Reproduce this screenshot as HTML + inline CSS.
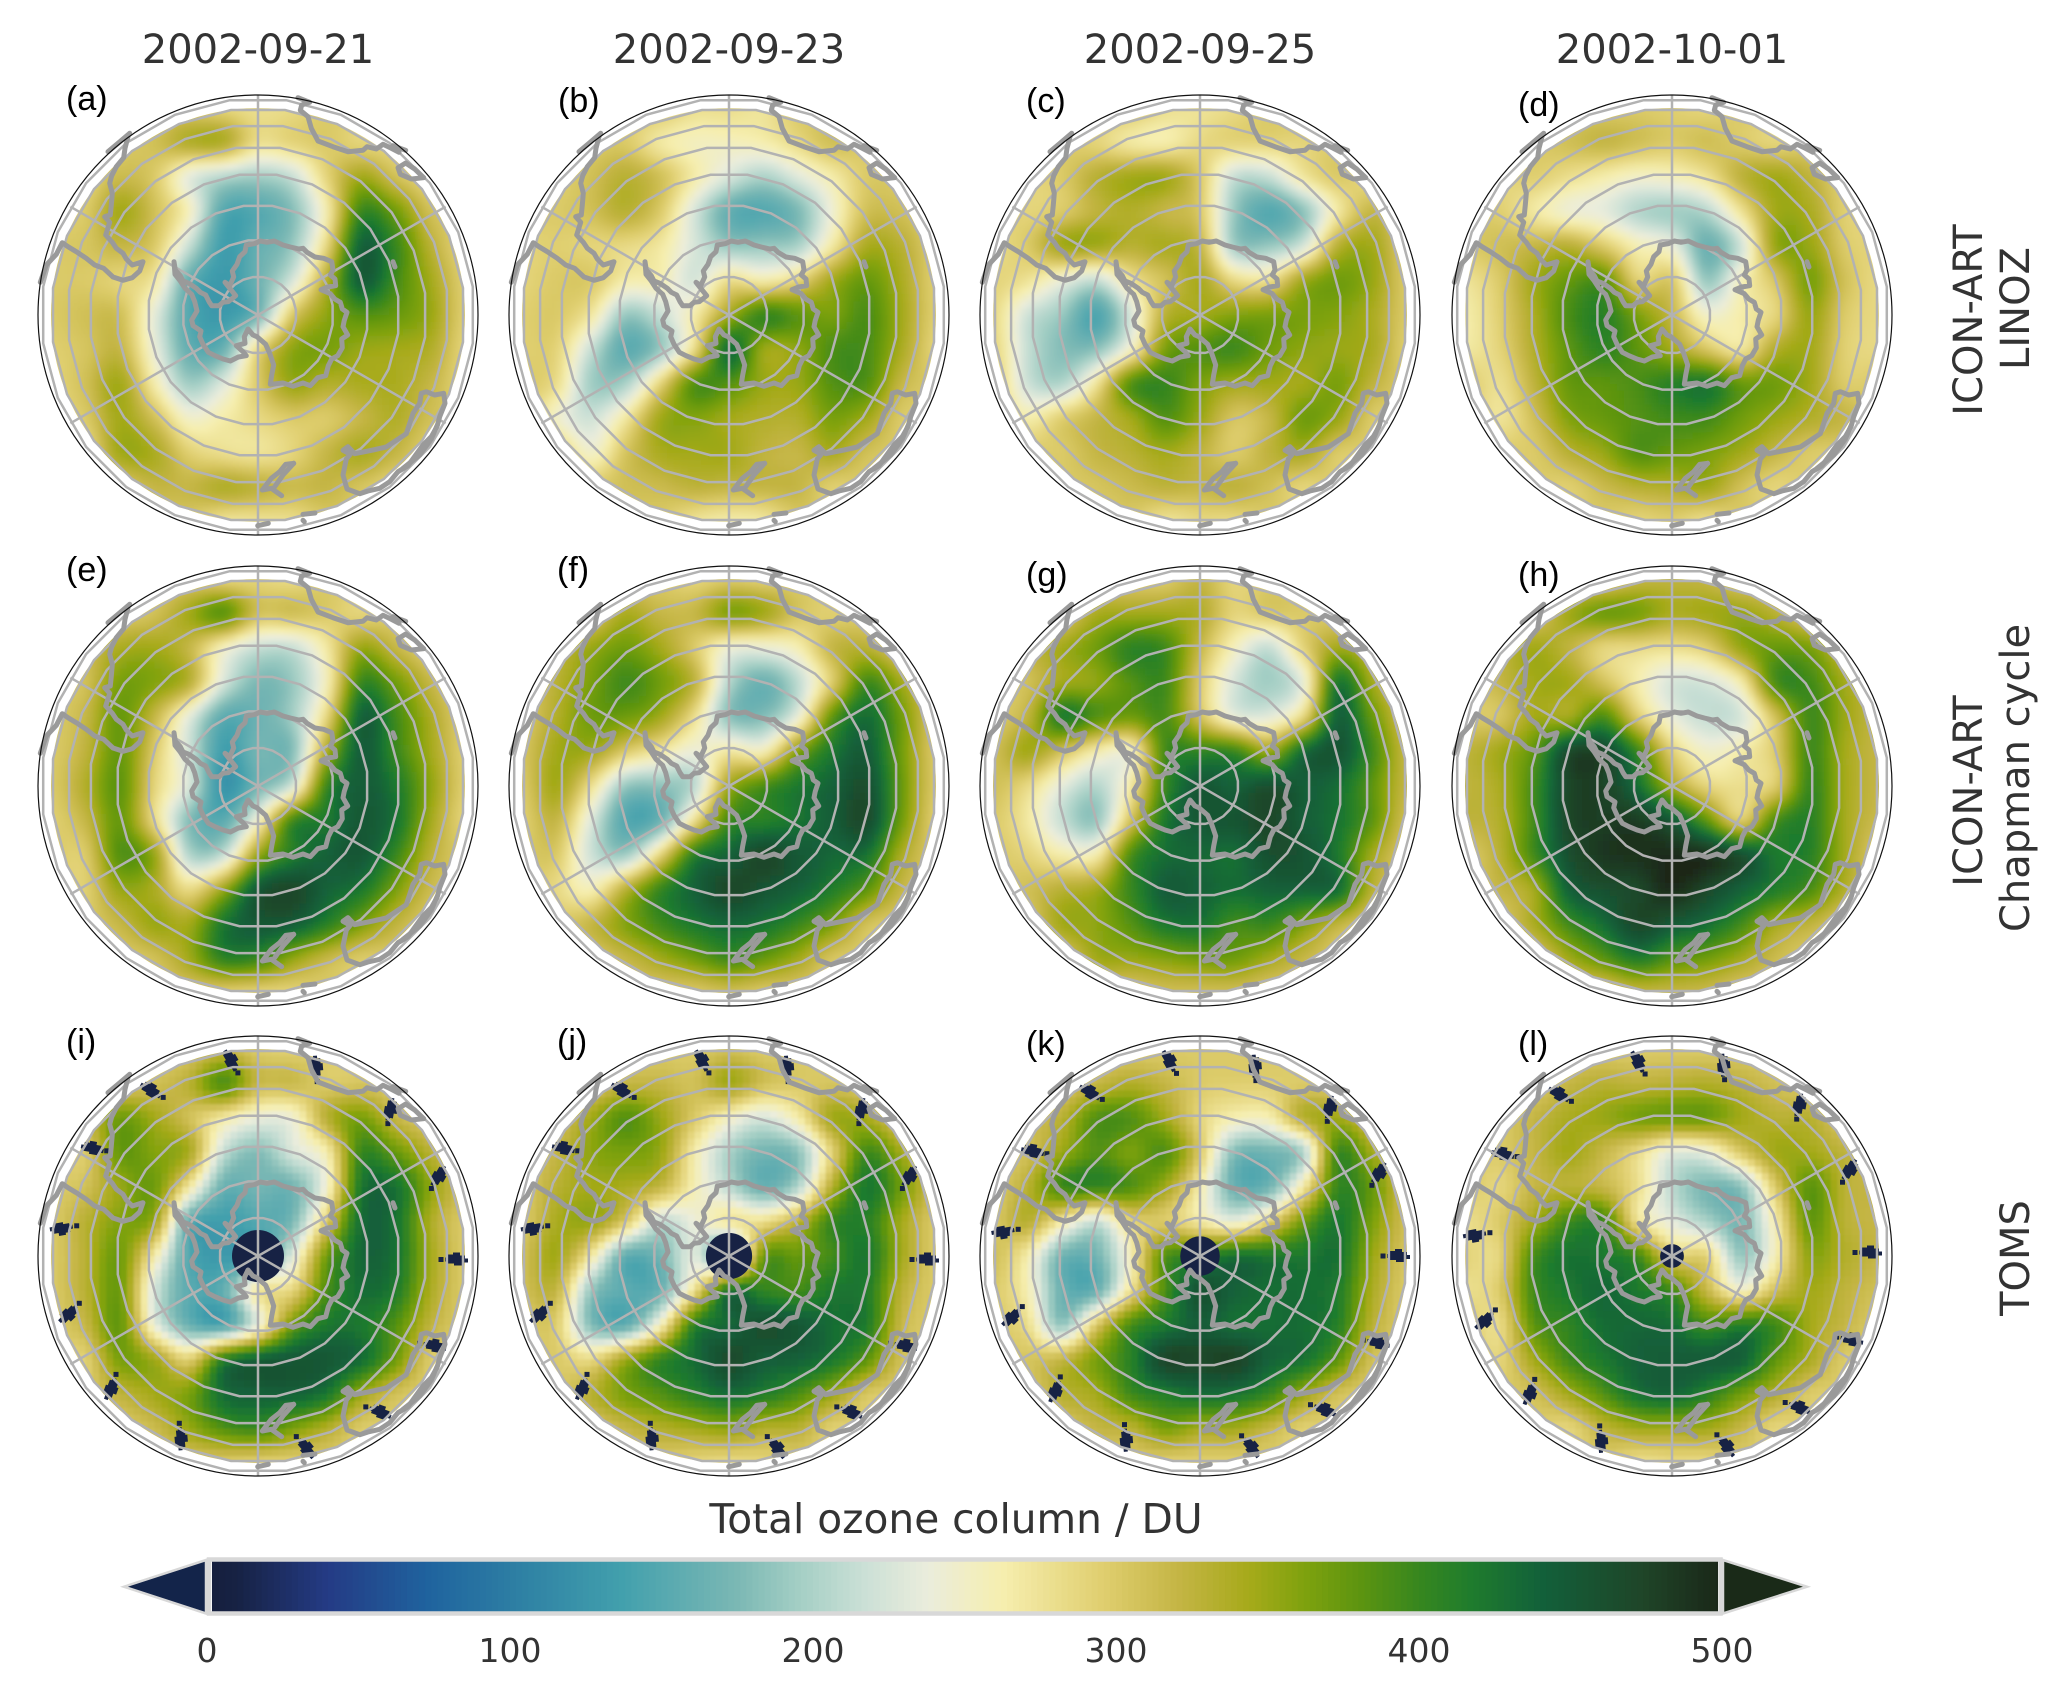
<!DOCTYPE html>
<html lang="en">
<head>
<meta charset="utf-8">
<title>Total ozone column maps</title>
<style>
html,body{margin:0;padding:0;background:#fff;}
#figure{display:block;width:2067px;height:1700px;}
.title{font-family:"DejaVu Sans","Liberation Sans",sans-serif;font-size:40px;fill:#333;text-anchor:middle;}
.letter{font-family:"Liberation Sans",sans-serif;font-size:34px;fill:#000;}
.tick{font-family:"DejaVu Sans","Liberation Sans",sans-serif;font-size:33px;fill:#333;text-anchor:middle;}
</style>
</head>
<body>
<svg id="figure" xmlns="http://www.w3.org/2000/svg" width="2067" height="1700" viewBox="0 0 2067 1700">
  <defs>
    <clipPath id="data-disk"><circle cx="0" cy="0" r="207"></circle></clipPath>
    <filter id="soft-model" x="-10%" y="-10%" width="120%" height="120%"><feGaussianBlur stdDeviation="2.6"></feGaussianBlur></filter>
    <filter id="soft-toms" x="-10%" y="-10%" width="120%" height="120%"><feGaussianBlur stdDeviation="1.3"></feGaussianBlur></filter>
  </defs>
  <rect x="0" y="0" width="2067" height="1700" fill="#fff"></rect>

  <text class="title" x="258" y="63">2002-09-21</text>
  <text class="title" x="729" y="63">2002-09-23</text>
  <text class="title" x="1200" y="63">2002-09-25</text>
  <text class="title" x="1672" y="63">2002-10-01</text>

  <g id="panels"></g>

  <text class="letter" x="66" y="110">(a)</text>
  <text class="letter" x="558" y="112">(b)</text>
  <text class="letter" x="1026" y="112">(c)</text>
  <text class="letter" x="1518" y="116">(d)</text>
  <text class="letter" x="66" y="581">(e)</text>
  <text class="letter" x="557" y="581">(f)</text>
  <text class="letter" x="1026" y="586">(g)</text>
  <text class="letter" x="1518" y="586">(h)</text>
  <text class="letter" x="66" y="1053">(i)</text>
  <text class="letter" x="557" y="1053">(j)</text>
  <text class="letter" x="1026" y="1055">(k)</text>
  <text class="letter" x="1518" y="1055">(l)</text>

  <text class="title" transform="translate(1982,320) rotate(-90)">ICON-ART</text>
  <text class="title" transform="translate(2029,308.5) rotate(-90)">LINOZ</text>
  <text class="title" transform="translate(1982,791) rotate(-90)">ICON-ART</text>
  <text class="title" transform="translate(2029,778) rotate(-90)">Chapman cycle</text>
  <text class="title" transform="translate(2029,1258) rotate(-90)">TOMS</text>

  <text class="title" x="956" y="1533" style="font-size:40.7px">Total ozone column / DU</text>
  <g id="colorbar"></g>
</svg>
<script>
/* Colormap */
const cmapValues=[0,10,40,74,100,137,175,196,217,238,263,295,321,344,362,381,401,417,441,474,500];
const cmapColors=['#141e3c','#172244','#243b85','#1f649f','#2c7da3','#42a0ad','#7bb8b4','#a5cfc5','#cbe0d6','#ebeddc','#f6eeae','#e0cf70','#c4b544','#a6aa1a','#7fa20e','#5c9410','#35861f','#1f7c2d','#12603a','#1f4528','#1a2618'];

/* Colorbar ticks */
const colorbarTicks=[0,100,200,300,400,500];

/* Graticule */
const latitudeCircles=[-80,-70,-60,-50,-40,-30,-20,-10];
const meridianBearings=[90,30,150];

/* Ozone values in DU: 13 x 13 nodes, north to south, west to east across the map disk */
const ozoneA=[
[300,300,300,300,300,290,280,285,300,300,300,300,300],
[300,300,300,310,335,335,280,290,300,290,290,300,300],
[300,290,315,300,235,205,195,215,290,345,310,290,300],
[300,300,345,310,255,150,150,180,265,400,370,310,300],
[300,305,320,300,215,135,160,190,290,440,400,330,290],
[300,300,290,270,160,130,165,225,335,445,395,345,295],
[300,310,310,235,150,130,170,300,355,385,375,350,295],
[295,305,320,240,160,165,285,355,365,350,345,335,290],
[290,310,345,265,195,230,300,350,335,340,340,320,290],
[290,300,345,310,250,265,285,300,300,320,335,310,300],
[300,285,345,340,295,280,275,290,320,340,320,295,300],
[300,300,300,320,320,335,325,315,320,305,290,300,300],
[300,300,300,300,300,275,275,280,300,300,300,300,300]];
const ozoneB=[
[300,300,300,300,300,280,280,275,300,300,300,300,300],
[300,300,300,300,270,255,255,262,285,310,300,300,300],
[300,295,310,330,310,265,225,200,230,265,300,300,300],
[300,300,310,330,300,225,160,150,175,245,310,310,290],
[290,295,290,285,270,225,190,190,200,270,340,330,295],
[290,300,300,265,260,225,280,265,290,345,375,340,295],
[295,300,270,190,215,265,345,400,380,365,390,345,295],
[295,290,215,155,190,285,430,350,355,390,390,340,290],
[300,280,195,200,290,385,385,350,350,385,385,320,300],
[300,250,220,270,345,360,345,335,335,365,345,300,300],
[300,300,250,305,340,345,345,325,320,340,310,300,300],
[300,300,300,310,315,325,320,320,320,295,300,300,300],
[300,300,300,300,300,275,265,270,300,300,300,300,300]];
const ozoneC=[
[300,300,300,300,300,280,275,285,300,300,300,300,300],
[300,300,300,290,270,265,285,290,290,290,300,300,300],
[300,290,300,330,345,345,300,215,215,270,300,285,300],
[300,290,300,325,335,320,300,190,150,185,270,320,290],
[285,300,345,345,330,340,320,195,190,225,330,345,295],
[290,275,240,215,275,310,340,285,280,345,370,350,300],
[285,220,190,145,225,330,345,360,365,365,360,340,300],
[290,215,180,185,255,365,385,395,370,355,350,340,295],
[300,220,205,275,385,400,365,345,345,345,365,325,300],
[300,265,295,320,345,385,350,305,320,370,350,300,300],
[300,300,300,320,330,345,325,300,325,340,300,300,300],
[300,300,300,305,315,325,320,325,310,290,300,300,300],
[300,300,300,300,300,275,285,285,300,300,300,300,300]];
const ozoneD=[
[300,300,300,300,300,300,295,290,300,300,300,300,300],
[300,300,300,310,320,310,300,310,300,290,300,300,300],
[300,290,295,280,265,250,255,275,325,345,325,295,300],
[300,295,270,245,235,205,195,205,275,345,340,295,290],
[300,310,320,330,300,260,240,165,220,350,350,300,290],
[275,300,345,375,385,295,300,190,255,305,365,310,285],
[265,295,340,390,410,365,320,250,265,290,350,300,285],
[270,290,335,380,405,380,345,305,275,335,345,295,285],
[300,280,325,375,380,390,410,420,375,370,345,300,300],
[300,275,310,360,375,385,395,395,370,350,335,320,300],
[300,300,300,330,350,385,375,365,345,320,300,300,300],
[300,300,300,295,315,330,335,345,310,290,300,300,300],
[300,300,300,300,300,290,295,280,300,300,300,300,300]];
const ozoneE=[
[300,300,300,300,300,290,290,285,300,300,300,300,300],
[300,300,300,310,345,380,310,310,300,290,300,300,300],
[300,310,340,345,320,255,215,215,270,350,320,295,300],
[300,310,365,360,330,225,175,190,260,400,370,320,290],
[300,320,375,320,235,155,165,195,290,440,395,340,295],
[300,325,375,300,220,135,170,180,340,445,400,345,295],
[300,335,380,290,225,125,170,225,400,445,420,355,295],
[295,320,375,285,180,155,250,395,420,450,425,345,290],
[300,300,385,350,205,215,350,415,440,450,400,330,300],
[300,295,350,340,285,350,450,470,440,420,365,315,300],
[300,300,320,350,345,420,450,445,410,365,325,300,300],
[300,300,300,310,345,405,400,355,320,300,300,300,300],
[300,300,300,300,300,295,290,290,300,300,300,300,300]];
const ozoneF=[
[300,300,300,300,300,290,300,295,300,300,300,300,300],
[300,300,300,340,320,320,360,345,305,295,300,300,300],
[300,320,350,370,345,300,245,240,260,320,330,300,300],
[300,330,365,395,370,325,205,165,210,300,395,345,300],
[300,335,370,370,345,280,185,180,240,380,430,370,300],
[305,345,345,300,270,240,270,260,360,420,445,370,300],
[300,345,280,190,185,210,345,390,420,440,460,375,300],
[295,320,230,150,165,280,395,410,425,445,465,370,295],
[300,300,220,195,290,410,440,470,450,435,425,340,300],
[300,285,260,330,400,440,470,455,440,415,380,320,300],
[300,300,320,360,395,420,435,425,400,365,310,300,300],
[300,300,300,320,345,370,395,375,345,305,300,300,300],
[300,300,300,300,300,300,310,300,300,300,300,300,300]];
const ozoneG=[
[300,300,300,300,300,300,320,290,300,300,300,300,300],
[300,300,300,340,345,345,335,290,300,300,300,300,300],
[300,320,345,370,405,395,320,255,215,290,345,320,300],
[300,310,345,355,385,395,300,225,195,240,420,345,300],
[300,325,415,385,370,390,310,240,235,290,440,375,310],
[310,345,310,265,255,395,405,400,350,430,455,395,320],
[310,285,235,205,270,400,450,440,460,445,430,380,320],
[300,270,215,190,310,420,450,455,470,445,425,380,310],
[300,290,265,265,390,430,435,430,460,455,420,345,300],
[300,310,330,345,400,445,440,430,440,440,430,330,300],
[300,300,345,355,385,420,425,395,400,365,325,300,300],
[300,300,300,345,350,360,370,370,345,320,300,300,300],
[300,300,300,300,300,310,310,310,300,300,300,300,300]];
const ozoneH=[
[300,300,300,300,300,320,325,320,300,300,300,300,300],
[300,300,300,345,370,365,340,345,350,330,300,300,300],
[300,320,345,325,290,285,280,295,350,375,365,320,300],
[300,320,345,345,310,265,225,225,265,390,395,345,320],
[300,305,345,345,390,300,240,215,225,310,395,350,320],
[325,345,380,465,470,400,295,250,265,300,395,345,320],
[325,340,395,470,475,430,345,290,280,300,400,345,320],
[325,335,395,470,480,480,450,380,300,390,410,345,315],
[300,330,395,460,485,490,495,490,460,420,410,345,300],
[300,320,345,440,460,470,495,470,440,415,390,335,300],
[300,300,340,395,430,470,450,430,395,345,325,300,300],
[300,300,300,345,380,415,385,370,345,315,300,300,300],
[300,300,300,300,300,320,320,315,300,300,300,300,300]];
const ozoneI=[
[300,300,300,300,300,320,300,295,300,300,300,300,300],
[300,300,300,310,330,385,320,315,300,305,300,300,300],
[300,315,370,345,310,270,240,245,330,365,320,300,300],
[300,300,375,360,340,215,180,225,265,400,375,330,300],
[300,310,350,370,270,165,170,170,250,420,425,355,310],
[300,330,360,345,160,135,150,175,300,430,425,340,300],
[300,330,370,265,150,130,150,230,370,435,425,345,300],
[300,330,370,225,155,160,270,290,390,430,415,340,300],
[300,320,375,240,165,150,240,370,420,420,385,325,300],
[300,295,365,345,295,405,440,450,450,430,370,300,300],
[300,300,325,345,365,430,440,440,420,350,310,300,300],
[300,300,300,315,350,385,395,365,335,300,300,300,300],
[300,300,300,300,300,300,295,295,300,300,300,300,300]];
const ozoneJ=[
[300,300,300,300,300,300,310,300,300,300,300,300,300],
[300,300,300,320,320,310,345,310,300,305,300,300,300],
[300,305,345,385,350,300,255,225,265,345,340,300,300],
[300,320,355,365,350,265,200,170,185,295,395,345,300],
[300,330,345,340,320,260,210,165,205,335,420,370,310],
[300,340,350,300,215,240,270,280,325,400,410,345,300],
[310,345,270,160,170,230,150,370,375,395,420,345,300],
[310,320,190,155,165,280,420,405,395,420,415,330,300],
[300,295,180,160,255,405,435,460,450,430,415,320,300],
[300,300,285,345,400,430,465,445,440,420,380,310,300],
[300,300,330,365,385,410,430,415,390,350,305,300,300],
[300,300,300,320,335,345,355,335,330,295,300,300,300],
[300,300,300,300,300,290,285,290,300,300,300,300,300]];
const ozoneK=[
[300,300,300,300,300,300,300,300,300,300,300,300,300],
[300,300,300,320,335,320,300,295,295,300,300,300,300],
[300,310,330,385,385,345,290,260,260,330,345,310,300],
[300,310,350,385,365,385,300,180,170,205,395,345,305],
[300,330,395,400,385,345,265,165,170,270,400,375,310],
[300,330,270,220,290,300,270,240,290,370,420,365,310],
[310,265,170,170,260,385,400,425,420,420,425,350,305],
[300,260,165,165,280,390,455,440,430,430,415,340,300],
[300,280,190,300,390,420,445,430,430,430,410,330,300],
[300,305,320,365,410,470,470,475,440,425,380,310,300],
[300,300,330,345,395,415,430,425,400,350,310,300,300],
[300,300,300,320,330,365,345,345,320,295,300,300,300],
[300,300,300,300,300,295,295,295,300,300,300,300,300]];
const ozoneL=[
[300,300,300,300,300,300,300,300,300,300,300,300,300],
[300,300,300,320,330,325,330,335,325,310,300,300,300],
[300,300,320,340,350,365,370,370,345,330,330,300,300],
[300,300,320,345,320,285,235,240,300,345,345,325,310],
[300,290,320,330,320,280,210,175,185,300,380,330,320],
[280,300,345,395,400,280,235,200,175,265,375,330,320],
[290,290,390,425,420,395,300,290,190,260,355,335,320],
[280,300,395,420,435,420,395,320,255,310,345,325,310],
[300,285,380,405,430,435,430,395,410,395,345,320,300],
[300,290,345,395,420,440,445,445,440,380,340,300,300],
[300,300,310,345,385,425,435,410,370,335,300,300,300],
[300,300,300,290,325,345,345,345,320,290,300,300,300],
[300,300,300,300,300,280,285,285,300,300,300,300,300]];

/* TOMS missing-data values */
const swathGapBearings=[98,73,48,24,-1,-27,-52,-76,-113,-138,-163,172,147,123];
const swathGapTilt=[60,85,100,120,0,10,20,50,85,110,135,170,10,30];
const swathGapRadius=0.9;
const swathGapShift=[0,0,1,2];
const poleHoleRadius=[0.118,0.105,0.09,0.054];

/* Coastlines as traced in map units, centre 695,680 at disk radius 660 */
const coastTraces=[
[[443,520],[447,545],[462,562],[470,578],[488,585],[510,600],[522,612],[538,620],[548,640],[556,652],[578,652],[590,642],[606,640],[628,622],[612,602],[596,582],[610,592],[622,566],[618,548],[632,528],[640,505],[656,490],[660,470],[684,466],[702,458],[722,462],[744,458],[770,470],[792,476],[818,482],[830,480],[842,492],[866,506],[892,510],[916,520],[920,545],[912,560],[926,572],[928,592],[904,596],[884,604],[912,616],[925,632],[942,642],[948,662],[962,672],[954,696],[950,715],[964,740],[946,752],[948,778],[934,802],[916,812],[906,832],[898,862],[874,868],[852,892],[830,884],[800,894],[770,884],[732,888],[736,860],[742,830],[730,795],[718,768],[692,745],[680,740],[665,722],[654,745],[656,765],[630,772],[650,790],[660,802],[636,806],[612,818],[590,812],[566,802],[546,792],[530,768],[520,745],[524,728],[500,712],[496,695],[512,668],[505,640],[496,618],[476,600],[462,578],[446,558],[443,520]],
[[305,145],[296,180],[292,208],[270,235],[256,262],[250,285],[258,315],[255,350],[252,380],[235,385],[250,402],[238,440],[258,462],[270,480],[290,495],[300,512],[318,530],[350,520],[340,548],[318,568],[290,576],[260,566],[232,540],[205,530],[180,510],[150,490],[125,475],[108,463],[90,498],[60,530],[42,582]],
[[245,190],[275,165],[310,135]],
[[815,28],[850,42],[826,50],[822,66],[845,85],[855,120],[875,158],[920,175],[965,190],[1010,186],[1022,175],[1050,182],[1070,168],[1095,180],[1118,192],[1100,172],[1138,186]],
[[1115,238],[1138,224],[1165,242],[1192,268],[1155,272],[1122,258],[1115,238]],
[[1100,520],[1106,536]],
[[1185,915],[1200,910],[1225,920],[1252,915],[1256,945],[1240,985],[1232,1015],[1215,1045],[1190,1070],[1145,1132],[1115,1150],[1090,1180],[1060,1200],[1025,1208],[1000,1216],[962,1202],[950,1160],[960,1112],[972,1098],[950,1086],[965,1075],[985,1096],[1040,1085],[1080,1076],[1140,1036],[1160,975],[1180,945],[1185,915]],
[[1232,1012],[1215,1052],[1180,1100],[1130,1140]],
[[802,1125],[778,1128],[760,1150],[735,1170],[708,1205],[735,1200],[766,1222]],
[[802,1125],[770,1160],[745,1195]],
[[830,1278],[866,1274]],
[[830,1296],[834,1300]],
[[694,1312],[726,1305]]
];

/* Panel placement */
const panelIds=['a','b','c','d','e','f','g','h','i','j','k','l'];
const panelGrids=[ozoneA,ozoneB,ozoneC,ozoneD,ozoneE,ozoneF,ozoneG,ozoneH,ozoneI,ozoneJ,ozoneK,ozoneL];
const SVGNS='http://www.w3.org/2000/svg';
const FRAME_R=220, DATA_R=207, NODES=13, SUBDIV=5;
const colCenters=[258,729,1200,1672];
const rowCenters=[315,786,1256];
const gapOutline='-11,-2 -8,-2 -8,-5 -3,-5 -3,-7 4,-7 4,-4 9,-4 9,-1 12,-1 12,3 7,3 7,6 -2,6 -2,4 -8,4 -8,2 -11,2';

function hexToRgb(h){return [parseInt(h.slice(1,3),16),parseInt(h.slice(3,5),16),parseInt(h.slice(5,7),16)];}
const cmapRgb=cmapColors.map(hexToRgb);
function colorFor(v){
  if(v<=cmapValues[0])return cmapColors[0];
  const n=cmapValues.length;
  if(v>=cmapValues[n-1])return cmapColors[n-1];
  let k=1;
  while(cmapValues[k]<v)k++;
  const t=(v-cmapValues[k-1])/(cmapValues[k]-cmapValues[k-1]);
  const a=cmapRgb[k-1],b=cmapRgb[k];
  return 'rgb('+Math.round(a[0]+(b[0]-a[0])*t)+','+Math.round(a[1]+(b[1]-a[1])*t)+','+Math.round(a[2]+(b[2]-a[2])*t)+')';
}
function gridScale(u){return (u/(NODES-1)*2-1)*DATA_R;}
function orthoRadius(lat){return FRAME_R*Math.cos(lat*Math.PI/180);}
function coastX(x){return (x-695)/660*FRAME_R;}
function coastY(y){return (y-680)/660*FRAME_R;}
function catmull(p0,p1,p2,p3,t){
  return 0.5*((2*p1)+(-p0+p2)*t+(2*p0-5*p1+4*p2-p3)*t*t+(-p0+3*p1-3*p2+p3)*t*t*t);
}
function clampIndex(i){return Math.max(0,Math.min(NODES-1,i));}
function sampleGrid(grid,u,v){
  const i=Math.min(Math.floor(u),NODES-2),j=Math.min(Math.floor(v),NODES-2);
  const fx=u-i,fy=v-j;
  const col=[];
  for(let m=-1;m<=2;m++){
    const row=grid[clampIndex(j+m)];
    col.push(catmull(row[clampIndex(i-1)],row[i],row[i+1],row[clampIndex(i+2)],fx));
  }
  return catmull(col[0],col[1],col[2],col[3],fy);
}
function el(tag,parent){const e=document.createElementNS(SVGNS,tag);parent.appendChild(e);return e;}

function drawHeat(parent,grid,filterId){
  const clip=el('g',parent);
  clip.setAttribute('clip-path','url(#data-disk)');
  
  
  const soft=el('g',clip);
  soft.setAttribute('filter','url(#'+filterId+')');
  const steps=(NODES-1)*SUBDIV;
  const size=gridScale(1/SUBDIV)-gridScale(0);
  for(let jj=-1;jj<=steps;jj++){
    for(let ii=-1;ii<=steps;ii++){
      const u=Math.max(0,Math.min(NODES-1,(ii+0.5)/SUBDIV));
      const v=Math.max(0,Math.min(NODES-1,(jj+0.5)/SUBDIV));
      const x=gridScale(ii/SUBDIV),y=gridScale(jj/SUBDIV);
      if(Math.hypot(x+size/2,y+size/2)>DATA_R+20)continue;
      const cell=el('rect',soft);
      
      
      cell.setAttribute('x',x.toFixed(2));
      cell.setAttribute('y',y.toFixed(2));
      cell.setAttribute('width',(size+0.7).toFixed(2));
      cell.setAttribute('height',(size+0.7).toFixed(2));
      cell.setAttribute('fill',colorFor(sampleGrid(grid,u,v)));
    }
  }
}

function drawMissing(parent,tomsIndex){
  const g=el('g',parent);
  
  
  g.setAttribute('fill',colorFor(10));
  const hole=el('circle',g);
  
  
  hole.setAttribute('r',(poleHoleRadius[tomsIndex]*FRAME_R).toFixed(1));
  swathGapBearings.forEach(function(b,idx){
    const a=(b+swathGapShift[tomsIndex])*Math.PI/180;
    const r=swathGapRadius*FRAME_R;
    const x=r*Math.cos(a),y=-r*Math.sin(a);
    const tilt=swathGapTilt[idx];
    const gap=el('polygon',g);
    
    
    gap.setAttribute('points',gapOutline);
    gap.setAttribute('transform','translate('+x.toFixed(1)+' '+y.toFixed(1)+') rotate('+tilt+')');
    let ax=Math.cos(tilt*Math.PI/180),ay=Math.sin(tilt*Math.PI/180);
    if(ax*x+ay*y>0){ax=-ax;ay=-ay;}
    const sat=el('rect',g);
    
    
    sat.setAttribute('x',(x+ax*15-2.5).toFixed(1));
    sat.setAttribute('y',(y+ay*15-2.5).toFixed(1));
    sat.setAttribute('width','5');
    sat.setAttribute('height','5');
  });
}

function drawCoast(parent){
  const g=el('g',parent);
  
  
  g.setAttribute('fill','none');
  g.setAttribute('stroke','#9a9a9a');
  g.setAttribute('stroke-width','5');
  g.setAttribute('stroke-linejoin','round');
  g.setAttribute('stroke-linecap','round');
  coastTraces.forEach(function(tr){
    const p=el('path',g);
    
    
    p.setAttribute('d','M'+tr.map(function(q){return coastX(q[0]).toFixed(1)+' '+coastY(q[1]).toFixed(1);}).join('L'));
  });
}

function drawGraticule(parent){
  const g=el('g',parent);
  
  
  g.setAttribute('fill','none');
  g.setAttribute('stroke','#b2b2b2');
  g.setAttribute('stroke-width','2.5');
  latitudeCircles.forEach(function(lat){
    const r=orthoRadius(lat);
    const pts=[];
    for(let d=0;d<360;d+=15){
      const a=(d+7.5)*Math.PI/180;
      pts.push((r*Math.cos(a)).toFixed(1)+','+(r*Math.sin(a)).toFixed(1));
    }
    const poly=el('polygon',g);
    
    
    poly.setAttribute('points',pts.join(' '));
  });
  meridianBearings.forEach(function(b){
    const a=b*Math.PI/180;
    const r=b===90?FRAME_R:orthoRadius(-10);
    const l=el('line',g);
    
    
    l.setAttribute('x1',(r*Math.cos(a)).toFixed(1));
    l.setAttribute('y1',(-r*Math.sin(a)).toFixed(1));
    l.setAttribute('x2',(-r*Math.cos(a)).toFixed(1));
    l.setAttribute('y2',(r*Math.sin(a)).toFixed(1));
  });
}

const panelsRoot=document.getElementById('panels');
panelIds.forEach(function(id,n){
  const col=n%4,row=Math.floor(n/4);
  const g=el('g',panelsRoot);
  
  
  g.setAttribute('transform','translate('+colCenters[col]+','+rowCenters[row]+')');
  drawHeat(g,panelGrids[n],row===2?'soft-toms':'soft-model');
  if(row===2)drawMissing(g,col);
  drawGraticule(g);
  drawCoast(g);
  const frame=el('circle',g);
  
  
  frame.setAttribute('r',FRAME_R);
  frame.setAttribute('fill','none');
  frame.setAttribute('stroke','#111');
  frame.setAttribute('stroke-width','1.2');
});

/* Colorbar */
function cbX(v){return 207+v*3.03;}
const cb=document.getElementById('colorbar');
const CB_TOP=1561.5,CB_BOT=1612;
for(let v=0;v<500;v+=2){
  const x0=Math.max(cbX(v),212),x1=Math.min(cbX(v+2)+0.6,1718);
  if(x1<=x0)continue;
  const r=el('rect',cb);
  
  
  r.setAttribute('x',x0.toFixed(2));
  r.setAttribute('y',CB_TOP);
  r.setAttribute('width',(x1-x0).toFixed(2));
  r.setAttribute('height',CB_BOT-CB_TOP);
  r.setAttribute('fill',colorFor(v+1));
}
const triL=el('polygon',cb);


triL.setAttribute('points','206,1560 206,1613.5 124,1586.7');
triL.setAttribute('fill','#13244a');
triL.setAttribute('stroke','#d8d8d8');
triL.setAttribute('stroke-width','2.5');
const triR=el('polygon',cb);


triR.setAttribute('points','1723,1560 1723,1613.5 1807,1586.7');
triR.setAttribute('fill','#1a2a18');
triR.setAttribute('stroke','#d8d8d8');
triR.setAttribute('stroke-width','2.5');
const cbFrame=el('rect',cb);


cbFrame.setAttribute('x','209');
cbFrame.setAttribute('y','1559.5');
cbFrame.setAttribute('width','1511.5');
cbFrame.setAttribute('height','54');
cbFrame.setAttribute('fill','none');
cbFrame.setAttribute('stroke','#d8d8d8');
cbFrame.setAttribute('stroke-width','4.5');
colorbarTicks.forEach(function(t){
  const lab=el('text',cb);
  
  
  lab.setAttribute('class','tick');
  lab.setAttribute('x',cbX(t));
  lab.setAttribute('y','1662');
  lab.textContent=String(t);
});
</script>
</body>
</html>
